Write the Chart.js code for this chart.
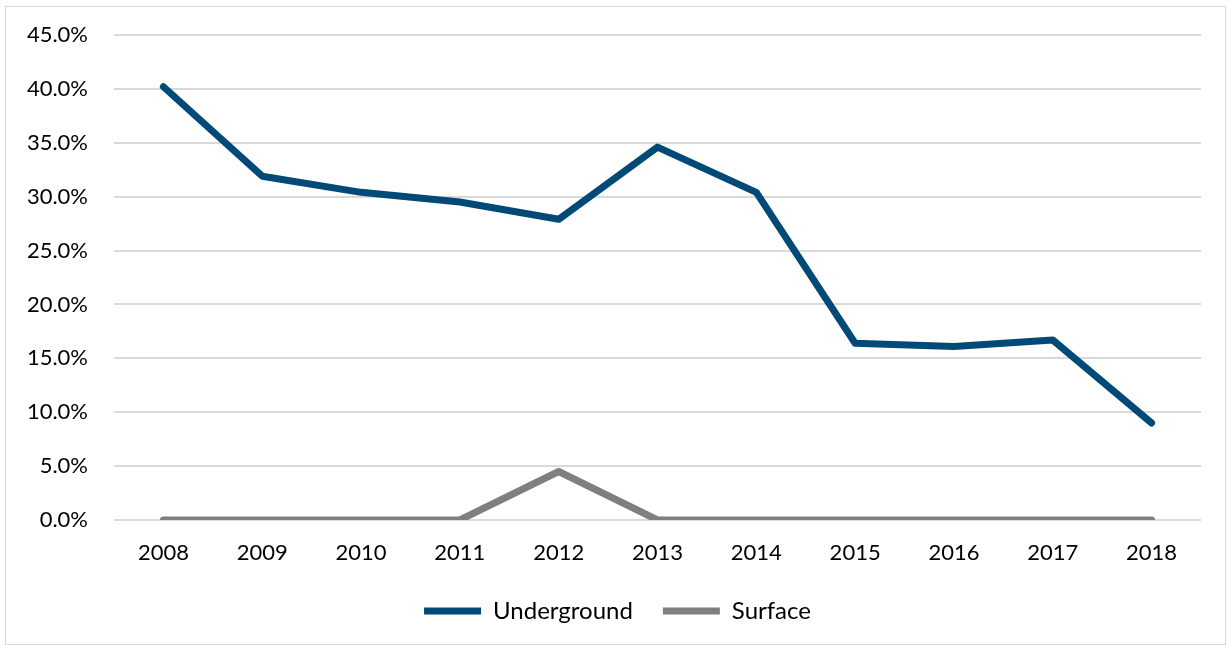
<!DOCTYPE html>
<html>
<head>
<meta charset="utf-8">
<script src="https://cdn.jsdelivr.net/npm/chart.js@4/dist/chart.umd.min.js"></script>
<style>
  html, body { margin: 0; padding: 0; background: #fff; }
  #wrap { position: relative; width: 1227px; height: 648px; }
  #frame { position: absolute; left: 5px; top: 6px; width: 1221px; height: 639px; border: 1px solid #d9d9d9; box-sizing: border-box; }
  canvas { position: absolute; left: 0; top: 0; }
</style>
</head>
<body>
<div id="wrap">
  <div id="frame"></div>
  <canvas id="chart" width="1227" height="648"></canvas>
</div>
<script>
// data
const years = ["2008", "2009", "2010", "2011", "2012", "2013", "2014", "2015", "2016", "2017", "2018"];
const underground = [40.2, 31.9, 30.4, 29.5, 27.9, 34.6, 30.4, 16.4, 16.1, 16.7, 9.0];
const surface = [0, 0, 0, 0, 4.5, 0, 0, 0, 0, 0, 0];
const yTicks = [0, 5, 10, 15, 20, 25, 30, 35, 40, 45];

const fontFamily = "Lato, 'Open Sans', sans-serif";

const ctx = document.getElementById("chart");
new Chart(ctx, {
  type: "line",
  data: {
    labels: years,
    datasets: [
      {
        label: "Underground",
        data: underground,
        borderColor: "#014a77",
        backgroundColor: "#014a77",
        borderWidth: 7,
        borderCapStyle: "round",
        borderJoinStyle: "round",
        pointRadius: 0,
        tension: 0,
      },
      {
        label: "Surface",
        data: surface,
        borderColor: "#7f7f7f",
        backgroundColor: "#7f7f7f",
        borderWidth: 7,
        borderCapStyle: "round",
        borderJoinStyle: "round",
        pointRadius: 0,
        tension: 0,
      },
    ],
  },
  options: {
    responsive: false,
    animation: false,
    layout: {
      padding: { left: 8, right: 0, top: 35, bottom: 15 },
    },
    plugins: {
      tooltip: { enabled: false },
      legend: {
        position: "bottom",
        labels: {
          color: "#000",
          font: { family: fontFamily, size: 24 },
          usePointStyle: true,
          pointStyle: "line",
          pointStyleWidth: 57,
          padding: 30,
        },
      },
    },
    scales: {
      x: {
        offset: true,
        grid: { display: false },
        border: { display: false },
        ticks: {
          color: "#000",
          font: { family: fontFamily, size: 22 },
          padding: 12,
          maxRotation: 0,
        },
        afterFit: function (scale) {
          scale.height = 49;
          scale.paddingLeft = 0;
          scale.paddingRight = 0;
        },
      },
      y: {
        min: 0,
        max: 45,
        afterBuildTicks: function (scale) {
          scale.ticks = yTicks.map(function (v) { return { value: v }; });
        },
        grid: { color: "#d9d9d9", lineWidth: 2, drawTicks: false },
        border: { display: false },
        ticks: {
          color: "#000",
          font: { family: fontFamily, size: 22 },
          padding: 26,
          callback: function (value) {
            return value.toFixed(1) + "%";
          },
        },
        afterFit: function (scale) {
          scale.width = 106;
          scale.paddingTop = 0;
          scale.paddingBottom = 0;
        },
      },
      // empty right-hand axis only reserves the margin right of the plot
      yRight: {
        position: "right",
        grid: { display: false },
        border: { display: false },
        ticks: { display: false },
        afterFit: function (scale) {
          scale.width = 26;
        },
      },
    },
  },
});
</script>
</body>
</html>
